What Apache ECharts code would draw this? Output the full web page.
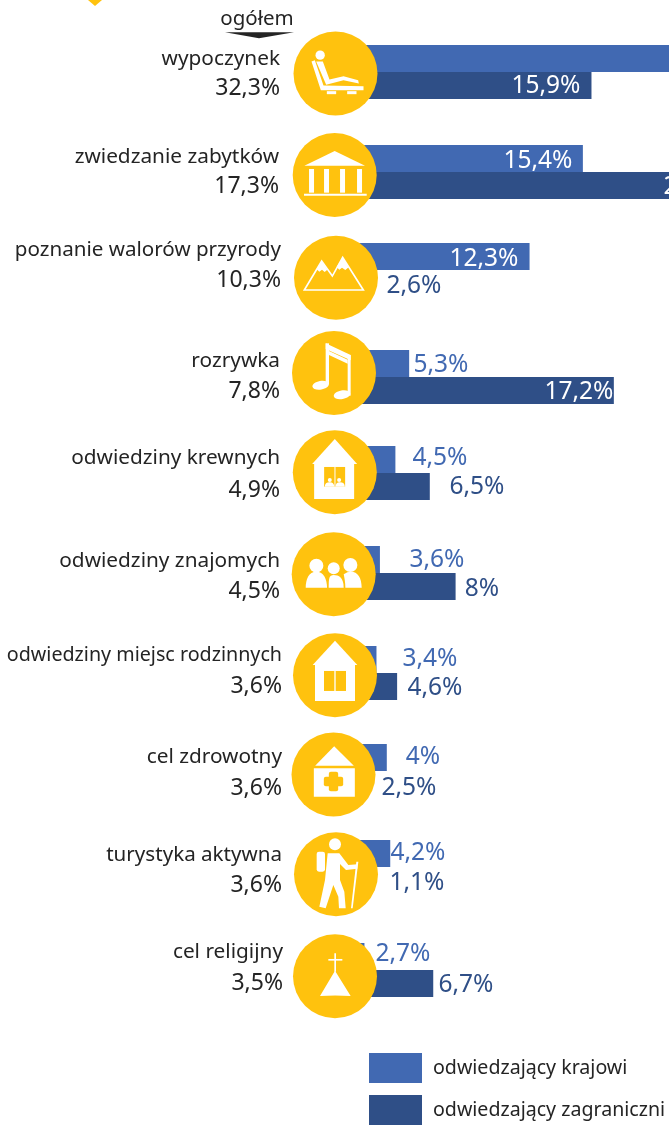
<!DOCTYPE html>
<html><head><meta charset="utf-8">
<style>html,body{margin:0;padding:0;background:#fff}#c{width:669px;height:1129px}</style>
<script src="https://cdn.jsdelivr.net/npm/echarts@6/dist/echarts.min.js"></script>
</head><body><div id="c"></div>
<script>
// ---- data ----
const categories = ['wypoczynek','zwiedzanie zabytków','poznanie walorów przyrody','rozrywka','odwiedziny krewnych','odwiedziny znajomych','odwiedziny miejsc rodzinnych','cel zdrowotny','turystyka aktywna','cel religijny'];
const totals   = [32.3,17.3,10.3,7.8,4.9,4.5,3.6,3.6,3.6,3.5];
const domestic = [39,15.4,12.3,5.3,4.5,3.6,3.4,4,4.2,2.7];
const foreign  = [15.9,25.1,2.6,17.2,6.5,8,4.6,2.5,1.1,6.7];
const domesticName = 'odwiedzający krajowi';
const foreignName  = 'odwiedzający zagraniczni';
const totalHeader  = 'ogółem';

// ---- layout (page pixels, the y axis is scaled 1:1 to the page) ----
const rowMid    = [72,172,270,377,473,573,673,771,867,970];
const barHalf   = 27;
const domLabel  = [[null,0],[538,161],[484,259],[441,365],[440,458],[437,560],[430,659],[423,757],[418,853],[403,954]];
const forLabel  = [[546,86],[698,187],[414,286],[579,392],[477,487],[482,589],[435,688],[409,788],[417,883],[466,985]];
const nameY     = [59,157,250,361,458,561,655,757,855,952];
const totalY    = [88,186,280,391,490,591,686,788,885,983];
const nameRight = [280,279,281,280,280,280,282,282,282,283];
const nameSize  = [20.8,20.8,20.6,20.8,20.8,20.8,19.7,20.8,20.6,20.8];
const circleC   = [[335.5,73.5],[334.7,175],[336,277.7],[334,373],[334.8,472.3],[333.7,574.3],[335,675.3],[333.5,774.5],[336,874.3],[335,976.3]];

const BLUE='#4169b2', NAVY='#2f4f87', GOLD='#ffc20e', INK='#242424';
const FONT='"Noto Sans", sans-serif';
const fmt = v => String(v).replace('.',',')+'%';

function barSeries(name, values, color, upper, labels){
  return {
    name, type:'custom', coordinateSystem:'cartesian2d', clip:false,
    itemStyle:{color},
    encode:{x:0,y:1},
    data: values.map((v,i)=>[v,rowMid[i],i]),
    renderItem(params, api){
      const v=api.value(0), y=api.value(1), i=api.value(2);
      const a=api.coord([0, upper? y-barHalf : y]);
      const b=api.coord([v, upper? y : y+barHalf]);
      const children=[{type:'rect',shape:{x:a[0],y:a[1],width:b[0]-a[0],height:b[1]-a[1]},style:{fill:color}}];
      const l=labels[i];
      if(l[0]!==null){
        const inside=l[0]<b[0];
        children.push({type:'text',z2:5,style:{x:l[0],y:l[1],text:fmt(v),fill:inside?'#fff':color,
          font:'24.5px '+FONT,align:'center',verticalAlign:'middle'}});
      }
      return {type:'group',children};
    }
  };
}

// Row text through the axes as well
const textSeries={
  type:'custom',coordinateSystem:'cartesian2d',clip:false,silent:true,
  data:categories.map((c,i)=>[0,nameY[i],i]),
  encode:{x:0,y:1},
  renderItem(params,api){
    const i=api.value(2);
    const common={fill:INK,align:'right',verticalAlign:'middle'};
    return {type:'group',children:[
      {type:'text',style:Object.assign({},common,{x:nameRight[i],y:api.coord([0,nameY[i]])[1],text:categories[i],font:nameSize[i]+'px '+FONT})},
      {type:'text',style:Object.assign({},common,{x:nameRight[i],y:api.coord([0,totalY[i]])[1],text:fmt(totals[i]),font:'23px '+FONT})}
    ]};
  }
};

// ---- icons: paths in 3x units around the circle centre ----
const W={fill:'#fff'}, G={fill:GOLD};
const p=(d,style)=>({type:'path',shape:{pathData:d},style:style||W});
const c=(x,y,r,style)=>({type:'circle',shape:{cx:x,cy:y,r},style:style||W});
const r=(x,y,w,h,style,rad)=>({type:'rect',shape:{x,y,width:w,height:h,r:rad||0},style:style||W});
const e=(x,y,a,b,rot)=>({type:'ellipse',shape:{cx:0,cy:0,rx:a,ry:b},x,y,rotation:rot,style:W});
const icons=[
 [c(-46,-55,14),
  p('M-58,-36L-38,-36L-18,18L24,8L68,20L70,30L24,20L-28,34Z'),
  p('M-72,-36L-62,-40L-36,36L84,38L84,50L-44,50Z'),
  r(-26,53,28,9),r(35,53,28,9)],
 [p('M-91,-28L0,-72L91,-28Z'),r(-77,-18,15,71),r(-32,-18,15,71),r(16,-18,15,71),r(67,-18,15,71),r(-92,56,188,6)],
 [p('M-95,37L-43,-50L-11,-5L20,-61L82,37Z',{fill:'none',stroke:'#fff',lineWidth:5,lineJoin:'miter'}),
  p('M-43,-50L-58,-25L-50,-18L-42,-24L-34,-17L-26,-24Z'),
  p('M20,-61L2,-32L10,-24L18,-30L28,-23L38,-31Z')],
 [e(-40,37,25,13,0.18),e(24,65,25,13,0.18),r(-25,-89,10,122),r(41,-54,9,122),
  p('M-25,-89L50,-54L50,-38L-25,-72Z'),p('M-15,-66L41,-40L41,-28L-15,-54Z')],
 [p('M0,-100L67,-25L-68,-25Z'),r(-62,-26,120,106),r(-32,-16,63,59,G),r(-1,-16,3,59),
  c(-15,23,6),c(13,23,6),p('M-30,43Q-30,30 -15,30Q-3,30 -1,43Z'),p('M2,43Q3,30 15,30Q30,30 30,43Z')],
 [c(-52,-26,21),c(0,-18,18),c(50,-28,21),
  p('M-84,40C-84,15 -75,-8 -52,-8C-30,-8 -20,15 -20,40Z'),
  p('M-15,40C-15,12 -14,2 0,2C15,2 30,10 30,40Z'),
  p('M35,40C35,25 32,10 30,0C38,-6 44,-8 52,-8C72,-8 84,10 84,40Z')],
 [p('M0,-104L67,-31L-67,-31Z'),r(-60,-32,120,109),r(-33,-13,66,60,G),r(-2,-13,4,60)],
 [p('M2,-85L61,-26L-55,-26Z'),r(-59,-19,123,86),r(-29,7,58,28,G,6),r(-14,-8,28,58,G,6)],
 [c(-3,-90,18),r(-58,-68,25,60,W,7),
  p('M-25,-63L10,-63L37,-28L64,-30L64,-17L30,-13L12,-31L12,17L25,52L29,102L9,102L7,67L-8,32L-31,102L-50,97L-33,17Z'),
  p('M61,-38L67,-38L50,102L45,102Z')],
 [r(-2,-69,5,55),r(-20,-52,42,5),p('M0,-17L47,59Q0,56 -45,59Z')]
];
const iconSeries={
  type:'custom',coordinateSystem:'cartesian2d',clip:false,silent:true,z:10,
  data:categories.map((n,i)=>[0,circleC[i][1],i]),
  encode:{x:0,y:1},
  renderItem(params,api){
    const i=api.value(2), m=circleC[i];
    return {type:'group',x:m[0],y:api.coord([0,m[1]])[1],children:[
      {type:'circle',shape:{cx:0,cy:0,r:42},style:{fill:GOLD}},
      {type:'group',scaleX:1/3,scaleY:1/3,children:icons[i]}
    ]};
  }
};

const chart=echarts.init(document.getElementById('c'),null,{renderer:'canvas',width:669,height:1129});
chart.setOption({
  animation:false,
  backgroundColor:'#fff',
  grid:{left:318,top:0,width:860,height:1129,containLabel:false,outerBoundsMode:'none'},
  xAxis:{type:'value',min:0,max:50,show:false},
  yAxis:{type:'value',min:0,max:1129,inverse:true,show:false},
  legend:{orient:'vertical',left:369,top:1053,itemWidth:53,itemHeight:30,itemGap:12,padding:0,selectedMode:false,
    icon:'rect',data:[domesticName,foreignName],
    textStyle:{fontFamily:FONT,fontSize:19.6,color:INK,padding:[0,0,0,6]}},
  series:[barSeries(domesticName,domestic,BLUE,true,domLabel),barSeries(foreignName,foreign,NAVY,false,forLabel),textSeries,iconSeries],
  graphic:{elements:[
    {type:'text',style:{x:257,y:19,text:totalHeader,fill:INK,font:'20.5px '+FONT,align:'center',verticalAlign:'middle'}},
    {type:'polygon',shape:{points:[[225,32.3],[294,32.3],[259,38.3]]},style:{fill:INK}},
    {type:'polygon',shape:{points:[[88,0],[102,0],[95,6]]},style:{fill:GOLD}}
  ]}
});
</script></body></html>
